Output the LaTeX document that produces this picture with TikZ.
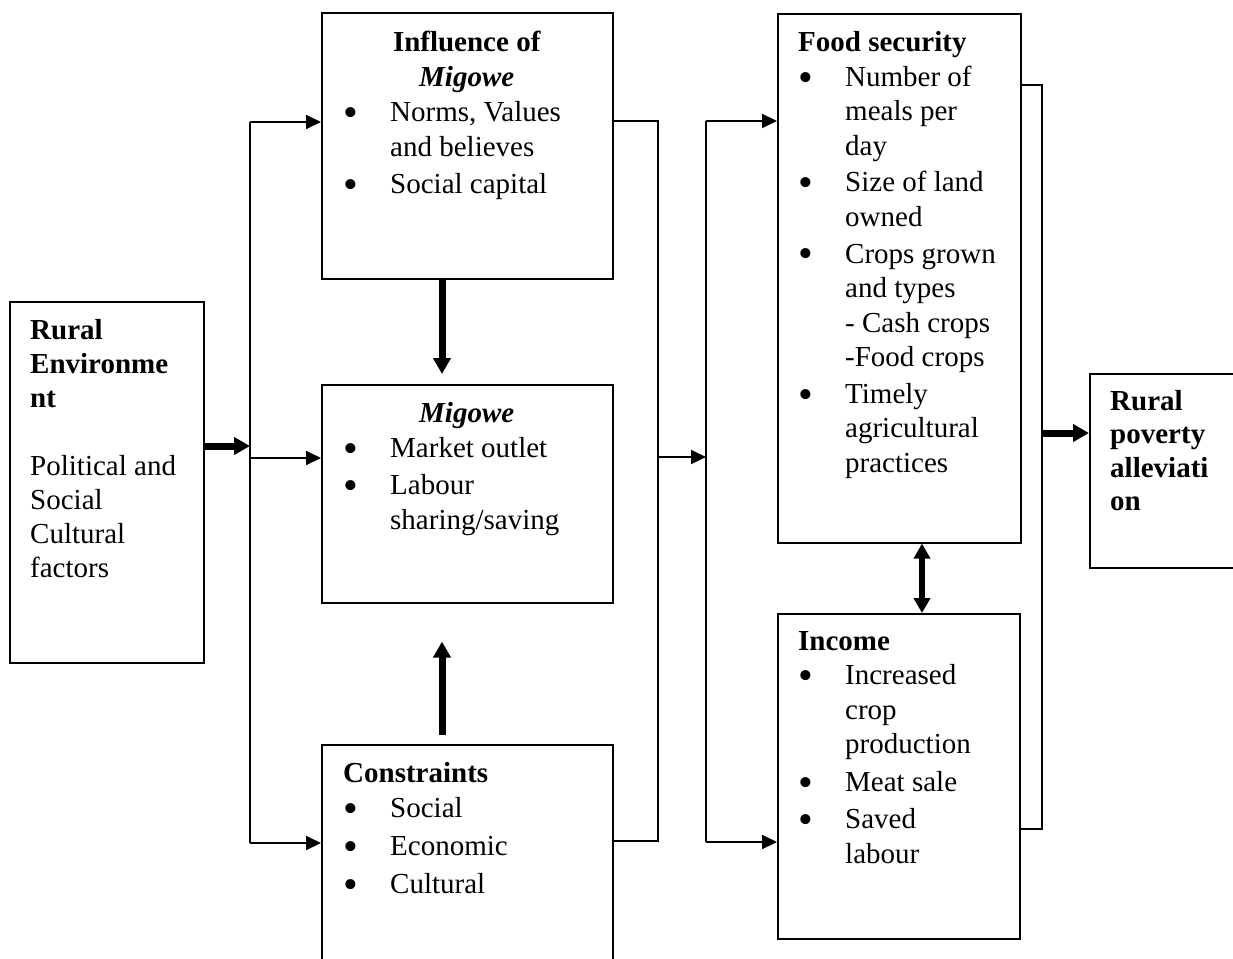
\documentclass[tikz,border=0pt]{standalone}
\usepackage{fontspec}
\usepackage{graphicx}
\setmainfont{Liberation Serif}
\usetikzlibrary{arrows.meta}
\newcommand{\bu}{\makebox[47pt][l]{\raisebox{-5pt}{\scalebox{1.45}{\textbullet}}}}
\newcommand{\ind}{\hspace*{47pt}}
\begin{document}
\begin{tikzpicture}[x=1pt,y=-1pt,
  box/.style={draw, line width=1.6pt, inner sep=0pt, anchor=north west},
  txt/.style={inner sep=0pt, anchor=base west, font=\fontsize{29}{35}\selectfont},
  conn/.style={line width=2pt},
  thinarrow/.style={conn, -{Triangle[length=15pt,width=14pt]}},
  thickarrow/.style={line width=7pt, -{Triangle[length=16pt,width=17pt]}},
  dblarrow/.style={line width=6pt, {Triangle[length=15pt,width=16pt]}-{Triangle[length=15pt,width=16pt]}}
]
\useasboundingbox (0,0) rectangle (1233,958);
\clip (0,0) rectangle (1233,958);

% boxes
\node[box, minimum width=194pt, minimum height=361pt] (env) at (9,301) {};
\node[box, minimum width=291pt, minimum height=266pt] (infl) at (321,12) {};
\node[box, minimum width=291pt, minimum height=218pt] (mig) at (321,384) {};
\node[box, minimum width=291pt, minimum height=230pt] (cons) at (321,744) {};
\node[box, minimum width=243pt, minimum height=529pt] (food) at (777,13) {};
\node[box, minimum width=242pt, minimum height=325pt] (inc) at (777,613) {};
\node[box, minimum width=170pt, minimum height=194pt] (pov) at (1089,373) {};

% texts
\node[txt] (envT) at (30,339) {\parbox[t]{300pt}{\fontsize{29}{34}\selectfont\raggedright
  \textbf{Rural}\\\textbf{Environme}\\\textbf{nt}\\[34pt]Political and\\Social\\Cultural\\factors}};
\node[txt] (inflT) at (343,52) {\parbox[t]{247pt}{\fontsize{29}{35}\selectfont
  {\centering\bfseries Influence of\\\textit{Migowe}\par}\raggedright
  \bu Norms, Values\\\ind and believes\\[2pt]\bu Social capital}};
\node[txt] (migT) at (343,422) {\parbox[t]{247pt}{\fontsize{29}{35}\selectfont
  {\centering\bfseries\itshape Migowe\par}\raggedright
  \bu Market outlet\\[2pt]\bu Labour\\\ind sharing/saving}};
\node[txt] (consT) at (343,782) {\parbox[t]{300pt}{\fontsize{29}{35}\selectfont\raggedright
  \textbf{Constraints}\\\bu Social\\[3pt]\bu Economic\\[3pt]\bu Cultural}};
\node[txt] (foodT) at (798,52) {\parbox[t]{300pt}{\fontsize{29}{34.5}\selectfont\raggedright
  \textbf{Food security}\\\bu Number of\\\ind meals per\\\ind day\\[2pt]\bu Size of land\\\ind owned\\[2pt]\bu Crops grown\\\ind and types\\\ind - Cash crops\\\ind -Food crops\\[2pt]\bu Timely\\\ind agricultural\\\ind practices}};
\node[txt] (incT) at (798,650) {\parbox[t]{300pt}{\fontsize{29}{34.5}\selectfont\raggedright
  \textbf{Income}\\\bu Increased\\\ind crop\\\ind production\\[3pt]\bu Meat sale\\[3pt]\bu Saved\\\ind labour}};
\node[txt] (povT) at (1110,410) {\parbox[t]{300pt}{\fontsize{29}{33.5}\selectfont\raggedright\bfseries
  Rural\\poverty\\alleviati\\on}};

% left bus
\coordinate (L0) at (250,446);
\coordinate (L1) at (250,122);
\coordinate (L2) at (250,458);
\coordinate (L3) at (250,843);
\draw[conn] (L1) -- (L3);
\draw[thickarrow] (L0 -| env.east) -- (L0);
\draw[thinarrow] (L1) -- (L1 -| infl.west);
\draw[thinarrow] (L2) -- (L2 -| mig.west);
\draw[thinarrow] (L3) -- (L3 -| cons.west);

% vertical thick arrows in middle column
\coordinate (V) at (442,0);
\draw[thickarrow, shorten >=10pt] (V |- infl.south) -- (V |- mig.north);
\draw[thickarrow, shorten <=9pt, shorten >=38pt] (V |- cons.north) -- (V |- mig.south);

% middle bus
\coordinate (M1) at (658,121);
\coordinate (M2) at (658,457);
\coordinate (M3) at (658,841);
\draw[conn] (M1 -| infl.east) -- (M1) -- (M3) -- (M3 -| cons.east);
\coordinate (R1) at (706,121);
\coordinate (R2) at (706,457);
\coordinate (R3) at (706,842);
\draw[thinarrow] (M2) -- (R2);
\draw[conn] (R1) -- (R3);
\draw[thinarrow] (R1) -- (R1 -| food.west);
\draw[thinarrow] (R3) -- (R3 -| inc.west);

% food <-> income
\coordinate (D) at (922,0);
\draw[dblarrow] (D |- food.south) -- (D |- inc.north);

% right bus
\coordinate (F1) at (1042,85);
\coordinate (F2) at (1042,433);
\coordinate (F3) at (1042,829);
\draw[conn] (F1 -| food.east) -- (F1) -- (F3) -- (F3 -| inc.east);
\draw[thickarrow] (F2) -- (F2 -| pov.west);
\end{tikzpicture}
\end{document}
